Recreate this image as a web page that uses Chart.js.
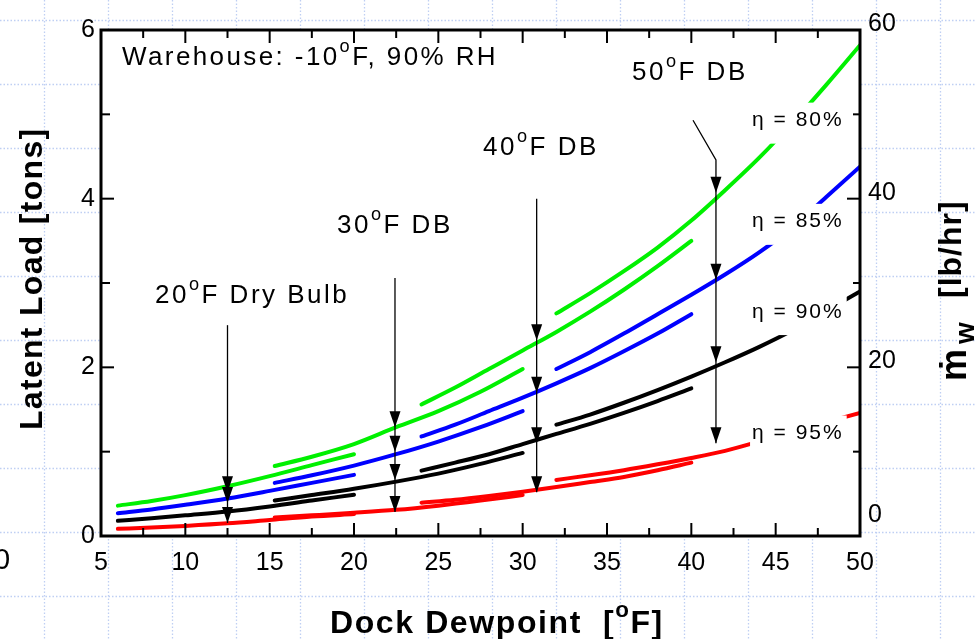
<!DOCTYPE html>
<html>
<head>
<meta charset="utf-8">
<script src="https://cdn.jsdelivr.net/npm/chart.js@4.4.1/dist/chart.umd.min.js"></script>
<style>
  html, body { margin: 0; padding: 0; background: #fff; }
  #wrap { width: 976px; height: 639px; }
</style>
</head>
<body>
<div id="wrap"><canvas id="dewChart" width="976" height="639"></canvas></div>
<script>
// dock dewpoint [F] for each dry bulb curve
var x20 = [6, 8, 10, 12.5, 15, 17.5, 20];
var x30 = [15.3, 17.5, 20, 22.5, 25, 27.5, 30];
var x40 = [24, 26, 28, 30, 32, 34, 36, 38, 40];
var x50 = [32, 34, 36, 38, 40, 42, 44, 46, 48, 50];

// latent load [tons], eta = 80%
var green20 = [0.36, 0.415, 0.485, 0.59, 0.71, 0.84, 0.97];
var green30 = [0.83, 0.94, 1.09, 1.29, 1.48, 1.71, 1.98];
var green40 = [1.56, 1.76, 1.98, 2.2, 2.42, 2.66, 2.92, 3.2, 3.5];
var green50 = [2.64, 2.88, 3.14, 3.42, 3.74, 4.1, 4.48, 4.9, 5.35, 5.82];
// eta = 85%
var blue20 = [0.27, 0.315, 0.37, 0.445, 0.535, 0.63, 0.725];
var blue30 = [0.63, 0.72, 0.835, 0.97, 1.12, 1.29, 1.48];
var blue40 = [1.18, 1.32, 1.48, 1.64, 1.81, 1.99, 2.19, 2.4, 2.63];
var blue50 = [1.98, 2.18, 2.4, 2.63, 2.86, 3.1, 3.36, 3.66, 4.02, 4.38];
// eta = 90%
var black20 = [0.18, 0.21, 0.245, 0.29, 0.35, 0.42, 0.49];
var black30 = [0.42, 0.485, 0.56, 0.645, 0.74, 0.855, 0.985];
var black40 = [0.775, 0.87, 0.97, 1.09, 1.21, 1.33, 1.46, 1.6, 1.75];
var black50 = [1.32, 1.44, 1.58, 1.73, 1.89, 2.06, 2.24, 2.44, 2.67, 2.9];
// eta = 95%
var red20 = [0.085, 0.1, 0.12, 0.15, 0.19, 0.23, 0.26];
var red30 = [0.22, 0.245, 0.275, 0.31, 0.36, 0.42, 0.485];
var red40 = [0.395, 0.43, 0.475, 0.525, 0.58, 0.64, 0.7, 0.78, 0.87];
var red50 = [0.665, 0.72, 0.78, 0.85, 0.925, 1.01, 1.12, 1.24, 1.35, 1.46];

// ticks
var xTicks = [5, 10, 15, 20, 25, 30, 35, 40, 45, 50];
var xMinor = [7.5, 12.5, 17.5, 22.5, 27.5, 32.5, 37.5, 42.5, 47.5];
var loadTicks = [0, 2, 4, 6];
var loadMinor = [1, 3, 5];
var flowTicks = [0, 20, 40, 60];

// labels
var etaText = ['\u03b7 = 80%', '\u03b7 = 85%', '\u03b7 = 90%', '\u03b7 = 95%'];
var etaX = 43.6;
var etaY = [4.86, 3.66, 2.59, 1.15];
var dbText = [['20', '^o', 'F Dry Bulb'], ['30', '^o', 'F DB'], ['40', '^o', 'F DB'], ['50', '^o', 'F DB']];
var dbTextX = [8.2, 18.99, 27.65, 36.48];
var dbTextY = [2.763, 3.593, 4.518, 5.407];

// arrows from each dry bulb label down to its curves
var arrowX = [12.5, 22.43, 30.83, 41.46];
var arrowTop = [2.5, 3.06, 4.0, 4.46];
var arrowTips = [[0.52, 0.39, 0.155], [1.29, 1.0, 0.664, 0.285], [2.32, 1.70, 1.10, 0.52], [4.07, 3.04, 2.06, 1.10]];
var leaderStart = [40.1, 4.93];

var curveX = [x20, x30, x40, x50];
var dbNames = ['20F DB', '30F DB', '40F DB', '50F DB'];
var etaColors = ['#00f000', '#0000ff', '#000000', '#ff0000'];
var etaCurves = [
    [green20, green30, green40, green50],
    [blue20, blue30, blue40, blue50],
    [black20, black30, black40, black50],
    [red20, red30, red40, red50]
];

var FAM = '"Liberation Sans", Arial, sans-serif';

var datasets = [];
etaCurves.forEach(function (set, k) {
    set.forEach(function (ys, j) {
        datasets.push({
            label: etaText[k] + ' ' + dbNames[j],
            data: curveX[j].map(function (x, i) { return { x: x, y: ys[i] }; }),
            borderColor: etaColors[k],
            backgroundColor: etaColors[k],
            borderWidth: 4,
            borderCapStyle: 'round',
            pointRadius: 0,
            cubicInterpolationMode: 'monotone',
            fill: false,
            yAxisID: 'y'
        });
    });
});

// text with superscript parts (marked with ^)
function richText(c, parts, x, y, size, bold, spacing) {
    var cx = x;
    parts.forEach(function (p) {
        var sup = p.charAt(0) === '^';
        var t = sup ? p.slice(1) : p;
        var fs = sup ? size * 0.7 : size;
        c.font = (bold ? 'bold ' : '') + fs + 'px ' + FAM;
        c.letterSpacing = spacing + 'px';
        c.fillText(t, cx, sup ? y - size * 0.5 : y);
        cx += c.measureText(t).width;
    });
    c.letterSpacing = '0px';
    return cx - x;
}

function arrowHead(c, x, y) {
    c.beginPath();
    c.moveTo(x, y);
    c.lineTo(x - 5.5, y - 16);
    c.lineTo(x + 5.5, y - 16);
    c.closePath();
    c.fill();
}

var paperGrid = {
    id: 'paperGrid',
    beforeDraw: function (chart) {
        var c = chart.ctx, a = chart.chartArea;
        c.save();
        c.fillStyle = '#fff';
        c.fillRect(0, 0, chart.width, chart.height);
        c.strokeStyle = '#bfcff3';
        c.lineWidth = 1.3;
        c.setLineDash([1.5, 2]);
        for (var gx = 44; gx < chart.width; gx += 64) {
            c.beginPath(); c.moveTo(gx + 0.5, 0); c.lineTo(gx + 0.5, chart.height); c.stroke();
        }
        for (var gy = 20; gy < chart.height; gy += 64) {
            c.beginPath(); c.moveTo(0, gy + 0.5); c.lineTo(chart.width, gy + 0.5); c.stroke();
        }
        c.setLineDash([]);
        c.fillStyle = '#fff';
        c.fillRect(a.left, a.top, a.right - a.left, a.bottom - a.top);
        // leftover label of the slide behind
        c.fillStyle = '#000';
        c.font = '29px ' + FAM;
        c.textBaseline = 'alphabetic';
        c.fillText('0', -6, 569);
        c.restore();
    }
};

var decorations = {
    id: 'decorations',
    afterDatasetsDraw: function (chart) {
        var c = chart.ctx, a = chart.chartArea;
        var sx = chart.scales.x, sy = chart.scales.y, sy2 = chart.scales.y2;
        c.save();
        c.textBaseline = 'alphabetic';
        c.textAlign = 'left';

        // eta labels on white boxes
        etaText.forEach(function (t, i) {
            var px = sx.getPixelForValue(etaX), py = sy.getPixelForValue(etaY[i]);
            c.font = '21px ' + FAM;
            c.letterSpacing = '2px';
            var w = c.measureText(t).width;
            c.fillStyle = '#fff';
            c.fillRect(px - 2, py - 23.5, w + 5, 41);
            c.fillStyle = '#000';
            c.fillText(t, px, py);
            c.letterSpacing = '0px';
        });

        // arrows
        c.strokeStyle = '#000';
        c.fillStyle = '#000';
        c.lineWidth = 1.3;
        arrowX.forEach(function (ax, i) {
            var px = sx.getPixelForValue(ax);
            var tips = arrowTips[i];
            c.beginPath();
            if (i === 3) {
                c.moveTo(sx.getPixelForValue(leaderStart[0]), sy.getPixelForValue(leaderStart[1]));
                c.lineTo(px, sy.getPixelForValue(arrowTop[i]));
            } else {
                c.moveTo(px, sy.getPixelForValue(arrowTop[i]));
            }
            c.lineTo(px, sy.getPixelForValue(tips[tips.length - 1]));
            c.stroke();
            tips.forEach(function (v) { arrowHead(c, px, sy.getPixelForValue(v)); });
        });

        // annotation text
        c.fillStyle = '#000';
        richText(c, ['Warehouse: -10', '^o', 'F, 90% RH'], sx.getPixelForValue(6.245), sy.getPixelForValue(5.585), 26, false, 2.4);
        dbText.forEach(function (parts, i) {
            richText(c, parts, sx.getPixelForValue(dbTextX[i]), sy.getPixelForValue(dbTextY[i]), 26, false, 2.5);
        });

        // frame
        c.lineWidth = 3;
        c.strokeRect(a.left, a.top, a.right - a.left, a.bottom - a.top);

        // inward ticks
        c.lineWidth = 2;
        function tick(x1, y1, x2, y2) { c.beginPath(); c.moveTo(x1, y1); c.lineTo(x2, y2); c.stroke(); }
        xTicks.forEach(function (v) {
            var px = sx.getPixelForValue(v);
            tick(px, a.bottom, px, a.bottom - 13);
            tick(px, a.top, px, a.top + 13);
        });
        xMinor.forEach(function (v) {
            var px = sx.getPixelForValue(v);
            tick(px, a.bottom, px, a.bottom - 8);
            tick(px, a.top, px, a.top + 8);
        });
        loadTicks.forEach(function (v) {
            var py = sy.getPixelForValue(v);
            tick(a.left, py, a.left + 13, py);
        });
        loadMinor.forEach(function (v) {
            var py = sy.getPixelForValue(v);
            tick(a.left, py, a.left + 9, py);
        });
        flowTicks.forEach(function (v) {
            var py = sy2.getPixelForValue(v);
            tick(a.right, py, a.right - 13, py);
        });
        loadMinor.forEach(function (v) {
            var py = sy2.getPixelForValue(v * 10);
            tick(a.right, py, a.right - 7, py);
        });

        // axis titles
        c.fillStyle = '#000';
        richText(c, ['Dock Dewpoint  [', '^o', 'F]'], 330, 633, 32, true, 1.6);

        c.save();
        c.translate(42, 430);
        c.rotate(-Math.PI / 2);
        richText(c, ['Latent Load [tons]'], 0, 0, 32, true, 1.3);
        c.restore();

        c.save();
        c.translate(966, 381);
        c.rotate(-Math.PI / 2);
        richText(c, ['\u1e41'], 0, 0, 36, true, 0);
        c.restore();
        c.save();
        c.translate(974, 344);
        c.rotate(-Math.PI / 2);
        richText(c, ['w'], 0, 0, 28, true, 0);
        c.restore();
        c.save();
        c.translate(961, 298);
        c.rotate(-Math.PI / 2);
        richText(c, ['[lb/hr]'], 0, 0, 32, true, 1);
        c.restore();

        c.restore();
    }
};

var ctx = document.getElementById('dewChart').getContext('2d');

new Chart(ctx, {
    type: 'line',
    data: { datasets: datasets },
    options: {
        responsive: false,
        animation: false,
        devicePixelRatio: 1,
        layout: { padding: { top: 30, left: 0, right: 0, bottom: 0 } },
        plugins: {
            legend: { display: false },
            tooltip: { enabled: false }
        },
        scales: {
            x: {
                type: 'linear',
                position: 'bottom',
                min: 5,
                max: 50,
                afterBuildTicks: function (s) { s.ticks = xTicks.map(function (v) { return { value: v }; }); },
                afterFit: function (s) { s.height = 103; },
                grid: { display: false, drawTicks: false },
                border: { display: false },
                ticks: { color: '#000', padding: 12, maxRotation: 0, font: { family: FAM, size: 25 } }
            },
            y: {
                type: 'linear',
                position: 'left',
                min: 0,
                max: 6,
                afterBuildTicks: function (s) { s.ticks = loadTicks.map(function (v) { return { value: v }; }); },
                afterFit: function (s) { s.width = 101; },
                grid: { display: false, drawTicks: false },
                border: { display: false },
                ticks: { color: '#000', padding: 6, font: { family: FAM, size: 25 } }
            },
            y2: {
                type: 'linear',
                position: 'right',
                min: 0,
                max: 60,
                afterBuildTicks: function (s) { s.ticks = flowTicks.map(function (v) { return { value: v }; }); },
                afterFit: function (s) { s.width = 116; },
                grid: { display: false, drawTicks: false },
                border: { display: false },
                ticks: {
                    color: '#000',
                    padding: 8,
                    labelOffset: -6,
                    font: { family: FAM, size: 25 },
                    callback: function (v) { return v === 0 ? ['0', ''] : String(v); }
                }
            }
        }
    },
    plugins: [paperGrid, decorations]
});
</script>
</body>
</html>
